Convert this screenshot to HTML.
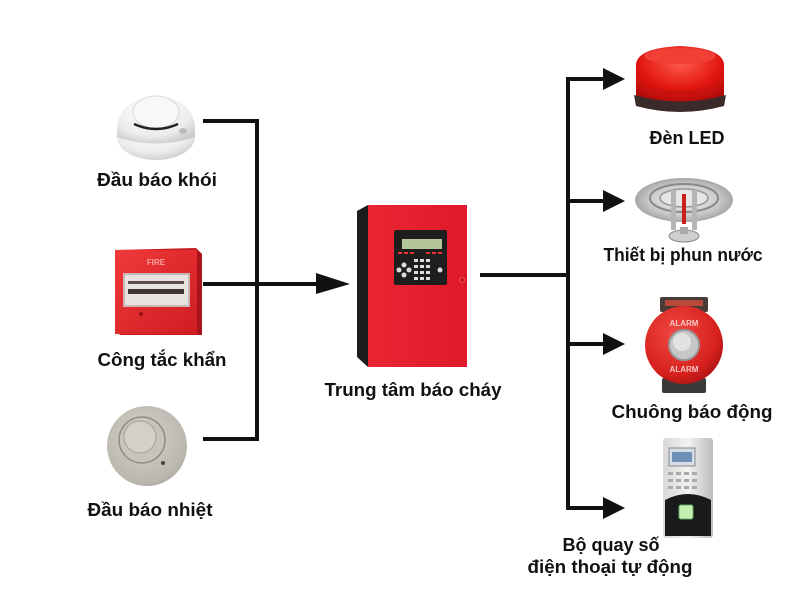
<!DOCTYPE html>
<html><head><meta charset="utf-8"><style>
html,body{margin:0;padding:0;background:#fff;}
svg{display:block;}
text{font-family:"Liberation Sans","DejaVu Sans",sans-serif;font-weight:bold;font-size:18px;fill:#111;}
</style></head><body>
<svg width="800" height="604" viewBox="0 0 800 604" xmlns="http://www.w3.org/2000/svg">
<defs>
<radialGradient id="gWhite" cx="0.45" cy="0.35" r="0.7"><stop offset="0" stop-color="#ffffff"/><stop offset="0.7" stop-color="#ececec"/><stop offset="1" stop-color="#c9c9c9"/></radialGradient>
<radialGradient id="gGray" cx="0.45" cy="0.4" r="0.7"><stop offset="0" stop-color="#d6d3cc"/><stop offset="0.8" stop-color="#b9b6ae"/><stop offset="1" stop-color="#9e9b94"/></radialGradient>
<linearGradient id="gRedBox" x1="0" y1="0" x2="1" y2="1"><stop offset="0" stop-color="#f0393a"/><stop offset="1" stop-color="#cf1d22"/></linearGradient>
<linearGradient id="gPanel" x1="0" y1="0" x2="1" y2="0"><stop offset="0" stop-color="#ea2633"/><stop offset="1" stop-color="#e0192a"/></linearGradient>
<radialGradient id="gLed" cx="0.5" cy="0.3" r="0.8"><stop offset="0" stop-color="#ff5a4a"/><stop offset="0.6" stop-color="#e0140f"/><stop offset="1" stop-color="#a30a08"/></radialGradient>
<radialGradient id="gBell" cx="0.4" cy="0.35" r="0.75"><stop offset="0" stop-color="#f04a44"/><stop offset="0.7" stop-color="#d7211e"/><stop offset="1" stop-color="#a0100f"/></radialGradient>
<radialGradient id="gSilver" cx="0.5" cy="0.5" r="0.6"><stop offset="0" stop-color="#f4f4f4"/><stop offset="0.6" stop-color="#c9c9c9"/><stop offset="1" stop-color="#8e8e8e"/></radialGradient>
<linearGradient id="gKey" x1="0" y1="0" x2="1" y2="0"><stop offset="0" stop-color="#d8d8d8"/><stop offset="0.5" stop-color="#f2f2f2"/><stop offset="1" stop-color="#bdbdbd"/></linearGradient>
</defs>

<!-- Left connectors -->
<g stroke="#111" stroke-width="4" fill="none">
<polyline points="203,121 257,121 257,439 203,439"/>
<line x1="203" y1="284" x2="320" y2="284"/>
</g>
<polygon points="316,273 350,284 316,294" fill="#111"/>

<!-- Right connectors -->
<g stroke="#111" stroke-width="4" fill="none">
<line x1="480" y1="275" x2="568" y2="275"/>
<polyline points="606,79 568,79 568,508 606,508"/>
<line x1="568" y1="201" x2="606" y2="201"/>
<line x1="568" y1="344" x2="606" y2="344"/>
</g>
<polygon points="603,68 625,79 603,90" fill="#111"/>
<polygon points="603,190 625,201 603,212" fill="#111"/>
<polygon points="603,333 625,344 603,355" fill="#111"/>
<polygon points="603,497 625,508 603,519" fill="#111"/>

<!-- Smoke detector -->
<g>
<ellipse cx="156" cy="137" rx="39" ry="23" fill="url(#gWhite)"/>
<path d="M117,130 Q117,100 156,96 Q195,100 195,130 L195,137 Q156,150 117,137 Z" fill="url(#gWhite)"/>
<ellipse cx="156" cy="112" rx="23" ry="16" fill="#f8f8f8" stroke="#d8d8d8" stroke-width="1"/>
<path d="M134,124 Q156,134 178,124" stroke="#222" stroke-width="2.5" fill="none"/>
<ellipse cx="183" cy="131" rx="4" ry="3" fill="#bbb"/>
</g>

<!-- Fire call point -->
<g>
<polygon points="115,250 196,248 202,254 202,335 120,335 115,330" fill="#c21a1f"/>
<rect x="115" y="250" width="82" height="84" fill="url(#gRedBox)"/>
<polygon points="197,250 202,254 202,335 197,334" fill="#a8141a"/>
<text x="156" y="265" text-anchor="middle" style="font-size:8px;fill:#f6a3a0;">FIRE</text>
<rect x="123" y="273" width="67" height="34" fill="#c7b7b5"/>
<rect x="125" y="275" width="63" height="30" fill="#e8e2e0"/>
<rect x="128" y="281" width="56" height="3" fill="#5a4a4a"/>
<rect x="128" y="289" width="56" height="5" fill="#3e3434"/>
<circle cx="141" cy="314" r="2" fill="#9b1015"/>
</g>

<!-- Heat detector -->
<g>
<circle cx="147" cy="446" r="40" fill="url(#gGray)"/>
<circle cx="142" cy="440" r="23" fill="#c8c4bc" stroke="#8f8c85" stroke-width="1.5"/>
<circle cx="140" cy="437" r="16" fill="#d4d0c8" stroke="#a29f98" stroke-width="1"/>
<circle cx="163" cy="463" r="2" fill="#444"/>
</g>

<!-- Control panel -->
<g>
<polygon points="357,211 368,205 368,367 357,357" fill="#1c1c1c"/>
<rect x="368" y="205" width="99" height="162" fill="url(#gPanel)"/>
<rect x="394" y="230" width="53" height="55" rx="2" fill="#1e1e1e"/>
<rect x="402" y="239" width="40" height="10" fill="#b3c79a"/>
<g fill="#e33">
<rect x="398" y="252" width="4" height="2"/><rect x="404" y="252" width="4" height="2"/><rect x="410" y="252" width="4" height="2"/>
<rect x="426" y="252" width="4" height="2"/><rect x="432" y="252" width="4" height="2"/><rect x="438" y="252" width="4" height="2"/>
</g>
<g fill="#ddd">
<circle cx="404" cy="265" r="2.5"/><circle cx="399" cy="270" r="2.5"/><circle cx="409" cy="270" r="2.5"/><circle cx="404" cy="275" r="2.5"/>
<rect x="414" y="259" width="4" height="3"/><rect x="420" y="259" width="4" height="3"/><rect x="426" y="259" width="4" height="3"/>
<rect x="414" y="265" width="4" height="3"/><rect x="420" y="265" width="4" height="3"/><rect x="426" y="265" width="4" height="3"/>
<rect x="414" y="271" width="4" height="3"/><rect x="420" y="271" width="4" height="3"/><rect x="426" y="271" width="4" height="3"/>
<rect x="414" y="277" width="4" height="3"/><rect x="420" y="277" width="4" height="3"/><rect x="426" y="277" width="4" height="3"/>
<circle cx="440" cy="270" r="2.5"/>
</g>
<circle cx="462" cy="280" r="2.5" fill="#c41520" stroke="#f77" stroke-width="0.6"/>
</g>

<!-- LED beacon -->
<g>
<path d="M636,64 Q638,48 680,46 Q722,48 724,64 L724,96 Q680,108 636,96 Z" fill="url(#gLed)"/>
<ellipse cx="680" cy="56" rx="36" ry="8" fill="#f04036"/>
<path d="M634,95 Q680,108 726,95 L724,106 Q680,118 636,106 Z" fill="#3a2a2a"/>
<path d="M640,88 Q680,98 720,88" stroke="#c81210" stroke-width="3" fill="none"/>
</g>

<!-- Sprinkler -->
<g>
<ellipse cx="684" cy="200" rx="49" ry="22" fill="url(#gSilver)"/>
<ellipse cx="684" cy="198" rx="34" ry="14" fill="none" stroke="#888" stroke-width="2"/>
<ellipse cx="684" cy="198" rx="24" ry="9" fill="#e6e6e6" stroke="#999" stroke-width="1.5"/>
<rect x="671" y="190" width="5" height="40" fill="#b5b5b5"/>
<rect x="692" y="190" width="5" height="40" fill="#b5b5b5"/>
<rect x="682" y="194" width="4" height="30" fill="#c8201c"/>
<ellipse cx="684" cy="236" rx="15" ry="6" fill="#cfcfcf" stroke="#888" stroke-width="1"/>
<rect x="680" y="227" width="8" height="7" fill="#aaa"/>
</g>

<!-- Alarm bell -->
<g>
<rect x="660" y="297" width="48" height="15" rx="2" fill="#4a3a3a"/>
<rect x="665" y="300" width="38" height="6" fill="#b84a3a"/>
<rect x="662" y="378" width="44" height="15" rx="2" fill="#3a3a3a"/>
<circle cx="684" cy="345" r="39" fill="url(#gBell)"/>
<circle cx="684" cy="345" r="15" fill="#c7c7c7" stroke="#999" stroke-width="2"/>
<circle cx="682" cy="342" r="9" fill="#e2e2e2"/>
<text x="684" y="326" text-anchor="middle" style="font-size:8px;fill:#f7c6c2;">ALARM</text>
<text x="684" y="372" text-anchor="middle" style="font-size:8px;fill:#f7c6c2;">ALARM</text>
</g>

<!-- Auto dialer / keypad device -->
<g>
<rect x="663" y="438" width="50" height="100" rx="3" fill="url(#gKey)"/>
<rect x="669" y="448" width="26" height="18" fill="#d6dde6" stroke="#888" stroke-width="1"/>
<rect x="672" y="452" width="20" height="10" fill="#6e8fb8"/>
<g fill="#aaa">
<rect x="668" y="472" width="5" height="3"/><rect x="676" y="472" width="5" height="3"/><rect x="684" y="472" width="5" height="3"/><rect x="692" y="472" width="5" height="3"/>
<rect x="668" y="479" width="5" height="3"/><rect x="676" y="479" width="5" height="3"/><rect x="684" y="479" width="5" height="3"/><rect x="692" y="479" width="5" height="3"/>
<rect x="668" y="486" width="5" height="3"/><rect x="676" y="486" width="5" height="3"/><rect x="684" y="486" width="5" height="3"/><rect x="692" y="486" width="5" height="3"/>
</g>
<path d="M665,500 Q688,488 711,500 L711,536 L665,536 Z" fill="#1a1a1a"/>
<rect x="679" y="505" width="14" height="14" rx="2" fill="#c4f0b0" stroke="#6a6" stroke-width="1"/>
</g>

<!-- Labels -->
<text x="157" y="186" text-anchor="middle" textLength="120" lengthAdjust="spacingAndGlyphs">Đầu báo khói</text>
<text x="162" y="366" text-anchor="middle" textLength="129" lengthAdjust="spacingAndGlyphs">Công tắc khẩn</text>
<text x="150" y="516" text-anchor="middle" textLength="125" lengthAdjust="spacingAndGlyphs">Đầu báo nhiệt</text>
<text x="413" y="396" text-anchor="middle" textLength="177" lengthAdjust="spacingAndGlyphs">Trung tâm báo cháy</text>
<text x="687" y="144" text-anchor="middle" textLength="75" lengthAdjust="spacingAndGlyphs">Đèn LED</text>
<text x="683" y="261" text-anchor="middle" textLength="159" lengthAdjust="spacingAndGlyphs">Thiết bị phun nước</text>
<text x="692" y="418" text-anchor="middle" textLength="161" lengthAdjust="spacingAndGlyphs">Chuông báo động</text>
<text x="611" y="551" text-anchor="middle" textLength="97" lengthAdjust="spacingAndGlyphs">Bộ quay số</text>
<text x="610" y="573" text-anchor="middle" textLength="165" lengthAdjust="spacingAndGlyphs">điện thoại tự động</text>
</svg>
</body></html>
